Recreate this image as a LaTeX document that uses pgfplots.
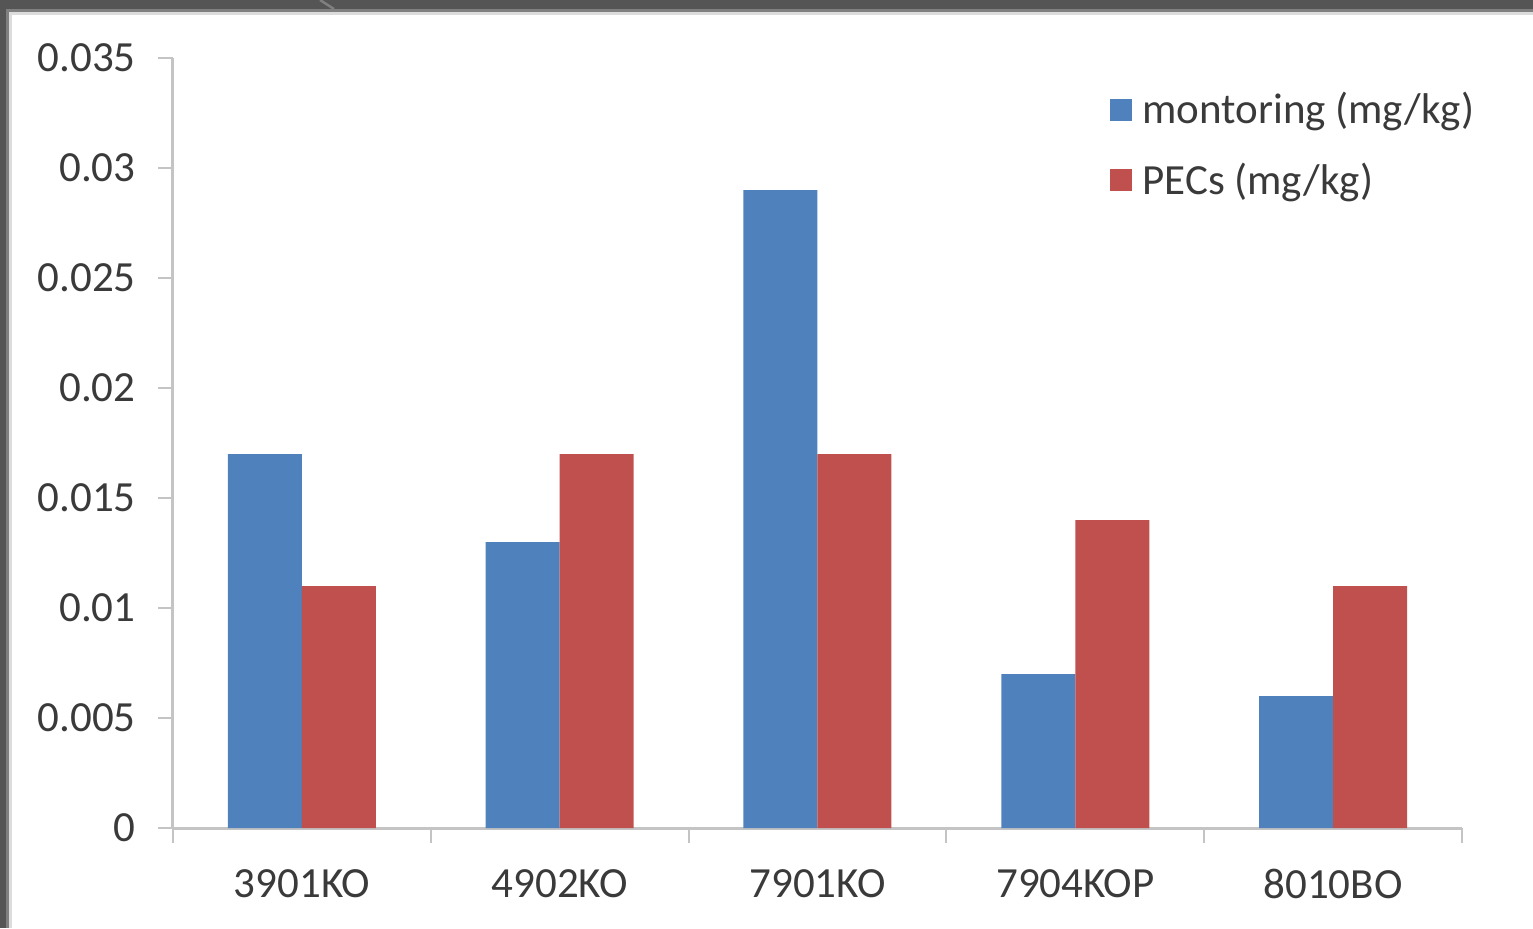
\documentclass[border=0pt]{standalone}
\usepackage{pgfplots}
\pgfplotsset{compat=1.18}
\usepackage{fontspec}
\setmainfont{Carlito}
\definecolor{barblue}{HTML}{4F81BD}
\definecolor{barred}{HTML}{C0504D}
\definecolor{axisgray}{HTML}{C4C4C4}
\definecolor{labelgray}{HTML}{3A3A3A}
\definecolor{framedark}{HTML}{555555}
\definecolor{framemid}{HTML}{808080}
\definecolor{framelight}{HTML}{DCDCDC}

\begin{document}
\begin{tikzpicture}[x=0.5pt,y=0.5pt]
\useasboundingbox (0,0) rectangle (1533,928);
% window frame
\fill[framelight] (0,0) rectangle (12,928);
\fill[framelight] (0,913) rectangle (1533,928);
\fill[framemid] (0,0) rectangle (9,928);
\fill[framemid] (0,916) rectangle (1533,928);
\fill[framedark] (0,0) rectangle (6,928);
\fill[framedark] (0,919) rectangle (1533,928);
\draw[framemid, line width=1.2pt] (320,928) -- (334,919);

\begin{axis}[
  at={(86.5pt,50pt)}, anchor=south west,
  scale only axis, width=644.5pt, height=385pt,
  ybar=0pt, bar width=37pt,
  xmin=-0.5, xmax=4.5, ymin=0, ymax=0.035,
  xtick={0,1,2,3,4},
  xticklabels={3901KO,4902KO,7901KO,7904KOP,8010BO},
  minor xtick={-0.5,0.5,1.5,2.5,3.5,4.5},
  ytick={0,0.005,0.01,0.015,0.02,0.025,0.03,0.035},
  yticklabels={0,0.005,0.01,0.015,0.02,0.025,0.03,0.035},
  scaled y ticks=false,
  axis x line*=bottom, axis y line*=left,
  axis line style={draw=axisgray, line width=1.5pt, -},
  tick align=outside,
  major tick length=7.5pt, minor tick length=7.5pt,
  major tick style={draw=axisgray, line width=1pt},
  minor tick style={draw=axisgray, line width=1pt},
  major x tick style={draw=none},
  ticklabel style={font=\fontsize{21.5}{26}\selectfont, text=labelgray},
  yticklabel style={anchor=east, inner sep=0pt, xshift=-11pt},
  xticklabel style={anchor=north, inner sep=0pt, yshift=-13pt},
  legend style={draw=none, fill=none, at={(0.7269,0.961)}, anchor=north west,
    font=\fontsize{21.5}{26}\selectfont, text=labelgray, row sep=14pt,
    inner sep=0pt,
    /tikz/every odd column/.append style={column sep=3pt}},
  legend cell align=left,
  legend image code/.code={\fill[#1] (0pt,-5.5pt) rectangle (11pt,5.5pt);},
]
\addplot[fill=barblue, draw=none] coordinates {
  (0,0.017) (1,0.013) (2,0.029) (3,0.007) (4,0.006)};
\addplot[fill=barred, draw=none] coordinates {
  (0,0.011) (1,0.017) (2,0.017) (3,0.014) (4,0.011)};
\legend{montoring (mg/kg), PECs (mg/kg)}
\end{axis}
\end{tikzpicture}
\end{document}
